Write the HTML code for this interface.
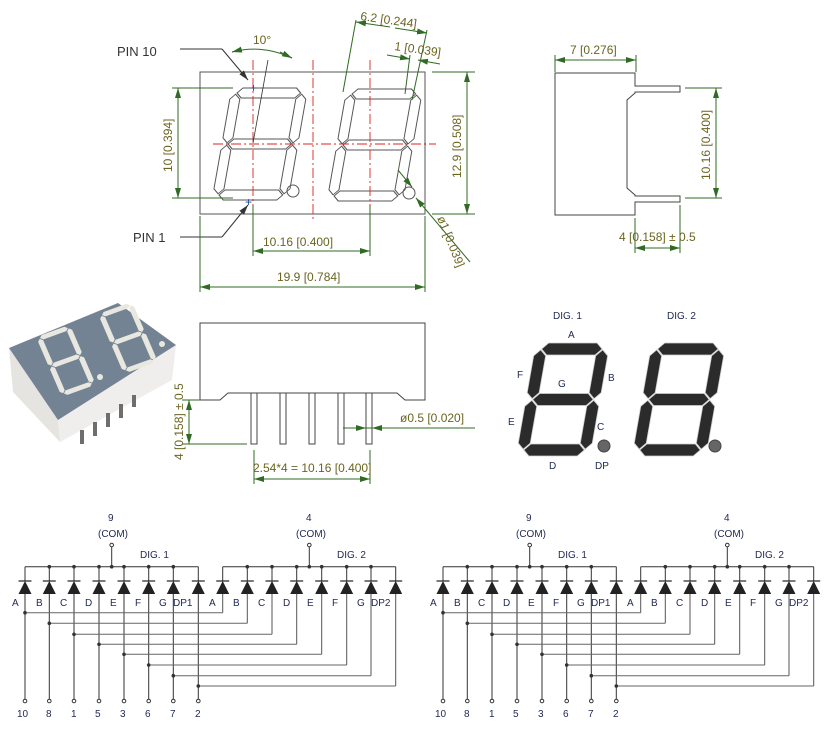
<!DOCTYPE html>
<html><head><meta charset="utf-8"><style>
html,body{margin:0;padding:0;background:#fff;width:834px;height:730px;overflow:hidden}
svg{display:block}
text{font-family:"Liberation Sans Narrow","Liberation Sans",sans-serif}
.d{fill:#6a6420;font-size:12px}
.g{stroke:#2f6b22;stroke-width:1;fill:none}
.s{font-size:10px;fill:#222a55}
.k{fill:#333;font-size:13px}
.r{stroke:#e02020;stroke-width:0.9;stroke-dasharray:10 3 2 3;fill:none}
</style></head><body>
<svg id="sv" width="834" height="730" viewBox="0 0 834 730" xmlns="http://www.w3.org/2000/svg">
<defs>
<marker id="ar" markerWidth="10" markerHeight="6" refX="10" refY="3" orient="auto" markerUnits="userSpaceOnUse"><path d="M0,0 L10,3 L0,6z" fill="#2f6b22"/></marker>
<marker id="ak" markerWidth="10" markerHeight="6" refX="10" refY="3" orient="auto" markerUnits="userSpaceOnUse"><path d="M0,0 L10,3 L0,6z" fill="#333"/></marker>
</defs>

<!-- top front view -->
<rect x="200" y="72" width="225" height="142" fill="none" stroke="#555" stroke-width="1"/>
<g id="outl"></g>
<circle cx="293" cy="191" r="6" fill="none" stroke="#555"/>
<circle cx="409" cy="193" r="6" fill="none" stroke="#555"/>
<line class="r" x1="253" y1="60" x2="253" y2="220"/>
<line class="r" x1="313" y1="60" x2="313" y2="220"/>
<line class="r" x1="370" y1="60" x2="370" y2="220"/>
<line class="r" x1="213" y1="144" x2="436" y2="144"/>
<line x1="253" y1="143" x2="268" y2="60" stroke="#333" stroke-width="0.8"/>
<text x="250" y="92" fill="#1a4a9a" font-size="12">+</text>
<text x="245" y="206" fill="#1a4a9a" font-size="12">+</text>

<!-- PIN labels -->
<text class="k" x="117" y="56">PIN 10</text>
<polyline points="180,49 222,49" stroke="#333" fill="none"/>
<line x1="222" y1="49" x2="248" y2="80" stroke="#333" marker-end="url(#ak)"/>
<text class="k" x="133" y="242">PIN 1</text>
<polyline points="180,237 222,237" stroke="#333" fill="none"/>
<line x1="222" y1="237" x2="248" y2="205" stroke="#333" marker-end="url(#ak)"/>

<!-- 10 deg -->
<path d="M232,52 Q262,44 292,58" class="g"/>
<line x1="240" y1="50" x2="232" y2="52" class="g" marker-end="url(#ar)"/>
<line x1="280" y1="52" x2="292" y2="58" class="g" marker-end="url(#ar)"/>
<text class="d" x="253" y="44">10°</text>

<!-- 6.2 -->
<line class="g" x1="343" y1="92" x2="356" y2="20"/>
<line class="g" x1="412" y1="100" x2="427" y2="30"/>
<line class="g" x1="390" y1="27" x2="356" y2="22" marker-end="url(#ar)"/>
<line class="g" x1="395" y1="28" x2="427" y2="33" marker-end="url(#ar)"/>
<text class="d" x="360" y="20" transform="rotate(8 360 20)">6.2 [0.244]</text>
<!-- 1 -->
<line class="g" x1="405" y1="94" x2="410" y2="55"/>
<line class="g" x1="387" y1="55" x2="410" y2="59" marker-end="url(#ar)"/>
<line class="g" x1="440" y1="64" x2="418" y2="60" marker-end="url(#ar)"/>
<text class="d" x="394" y="50" transform="rotate(8 394 50)">1 [0.039]</text>

<!-- 12.9 -->
<line class="g" x1="432" y1="72" x2="475" y2="72"/>
<line class="g" x1="432" y1="214" x2="475" y2="214"/>
<line class="g" x1="467" y1="140" x2="467" y2="72" marker-end="url(#ar)"/>
<line class="g" x1="467" y1="140" x2="467" y2="214" marker-end="url(#ar)"/>
<text class="d" x="0" y="0" transform="translate(461,178) rotate(-90)">12.9 [0.508]</text>
<!-- 10 -->
<line class="g" x1="172" y1="88" x2="233" y2="88"/>
<line class="g" x1="172" y1="198" x2="233" y2="198"/>
<line class="g" x1="178" y1="140" x2="178" y2="88" marker-end="url(#ar)"/>
<line class="g" x1="178" y1="140" x2="178" y2="198" marker-end="url(#ar)"/>
<text class="d" x="0" y="0" transform="translate(172,172) rotate(-90)">10 [0.394]</text>
<!-- 10.16 -->
<line class="g" x1="253" y1="205" x2="253" y2="256"/>
<line class="g" x1="370" y1="205" x2="370" y2="256"/>
<line class="g" x1="310" y1="251" x2="253" y2="251" marker-end="url(#ar)"/>
<line class="g" x1="310" y1="251" x2="370" y2="251" marker-end="url(#ar)"/>
<text class="d" x="263" y="246">10.16 [0.400]</text>
<!-- 19.9 -->
<line class="g" x1="200" y1="216" x2="200" y2="292"/>
<line class="g" x1="425" y1="216" x2="425" y2="292"/>
<line class="g" x1="310" y1="287" x2="200" y2="287" marker-end="url(#ar)"/>
<line class="g" x1="310" y1="287" x2="425" y2="287" marker-end="url(#ar)"/>
<text class="d" x="277" y="281">19.9 [0.784]</text>
<!-- phi 1 -->
<line class="g" x1="398" y1="170" x2="412" y2="187" marker-end="url(#ar)"/>
<line class="g" x1="470" y1="262" x2="416" y2="198" marker-end="url(#ar)"/>
<text class="d" x="0" y="0" transform="translate(437,218) rotate(68)">ø1 [0.039]</text>

<!-- right side view -->
<path d="M555,73 L635,73 L635,86 L680,86 L680,92 L635,92 L635,93 L627,100 L627,188 L635,195 L635,196 L680,196 L680,202 L635,202 L635,215 L555,215 Z" fill="none" stroke="#444"/>
<line class="g" x1="555" y1="55" x2="555" y2="72"/>
<line class="g" x1="636" y1="55" x2="636" y2="72"/>
<line class="g" x1="595" y1="60" x2="555" y2="60" marker-end="url(#ar)"/>
<line class="g" x1="595" y1="60" x2="636" y2="60" marker-end="url(#ar)"/>
<text class="d" x="570" y="54">7 [0.276]</text>
<line class="g" x1="685" y1="88" x2="722" y2="88"/>
<line class="g" x1="685" y1="198" x2="722" y2="198"/>
<line class="g" x1="716" y1="143" x2="716" y2="88" marker-end="url(#ar)"/>
<line class="g" x1="716" y1="143" x2="716" y2="198" marker-end="url(#ar)"/>
<text class="d" x="0" y="0" transform="translate(710,180) rotate(-90)">10.16 [0.400]</text>
<line class="g" x1="635" y1="218" x2="635" y2="253"/>
<line class="g" x1="680" y1="205" x2="680" y2="253"/>
<line class="g" x1="657" y1="248" x2="635" y2="248" marker-end="url(#ar)"/>
<line class="g" x1="657" y1="248" x2="680" y2="248" marker-end="url(#ar)"/>
<text class="d" x="619" y="241">4 [0.158] ± 0.5</text>

<!-- photo -->
<polygon points="9,348 58,420 60,442 13,392" fill="#e6e4e0"/>
<polygon points="58,420 176,345 172,380 60,442" fill="#efeeec"/>
<polygon points="9,348 118,303 176,345 58,420" fill="#748393"/>
<g fill="#6e6e6e">
<rect x="80" y="430" width="4" height="14"/><rect x="93" y="422" width="4" height="14"/><rect x="106" y="413" width="4" height="14"/><rect x="119" y="404" width="4" height="14"/><rect x="132" y="395" width="4" height="12"/>
</g>
<g id="photo"></g>
<circle cx="100" cy="377" r="3" fill="#e8e8e0"/>
<circle cx="162" cy="344" r="3" fill="#e8e8e0"/>

<!-- side view bottom -->
<path d="M200,323 L425,323 L425,400 L405,400 L397,393 L228,393 L220,400 L200,400 Z" fill="none" stroke="#444"/>
<g fill="#fff" stroke="#444">
<rect x="251" y="393" width="6" height="51"/><rect x="280" y="393" width="6" height="51"/><rect x="309" y="393" width="6" height="51"/><rect x="338" y="393" width="6" height="51"/><rect x="366" y="393" width="6" height="51"/>
</g>
<line class="g" x1="182" y1="400" x2="200" y2="400"/>
<line class="g" x1="182" y1="444" x2="247" y2="444"/>
<line class="g" x1="189" y1="422" x2="189" y2="400" marker-end="url(#ar)"/>
<line class="g" x1="189" y1="422" x2="189" y2="444" marker-end="url(#ar)"/>
<text class="d" x="0" y="0" transform="translate(183,460) rotate(-90)">4 [0.158] ± 0.5</text>
<line class="g" x1="343" y1="428" x2="475" y2="428"/>
<line class="g" x1="355" y1="428" x2="366" y2="428" marker-end="url(#ar)"/>
<line class="g" x1="385" y1="428" x2="372" y2="428" marker-end="url(#ar)"/>
<text class="d" x="400" y="422" font-size="13">ø0.5 [0.020]</text>
<line class="g" x1="254" y1="450" x2="254" y2="484"/>
<line class="g" x1="370" y1="450" x2="370" y2="484"/>
<line class="g" x1="312" y1="479" x2="254" y2="479" marker-end="url(#ar)"/>
<line class="g" x1="312" y1="479" x2="370" y2="479" marker-end="url(#ar)"/>
<text class="d" x="253" y="472" font-size="13">2.54*4 = 10.16 [0.400]</text>

<!-- segment display -->
<g id="disp"></g>
<circle cx="604" cy="446" r="6" fill="#666" stroke="#444"/>
<circle cx="715" cy="446" r="6" fill="#666" stroke="#444"/>
<g class="s">
<text x="553" y="319">DIG. 1</text><text x="667" y="319">DIG. 2</text>
<text x="568" y="338">A</text><text x="517" y="378">F</text><text x="558" y="387">G</text><text x="608" y="381">B</text>
<text x="508" y="425">E</text><text x="597" y="430">C</text><text x="549" y="469">D</text><text x="595" y="469">DP</text>
</g>

<!-- schematics -->
<g id="sch1"></g>
<g id="sch2" transform="translate(418,0)"></g>
<g class="s">
<text x="108" y="521">9</text><text x="98" y="537">(COM)</text><text x="140" y="558">DIG. 1</text>
<text x="306" y="521">4</text><text x="296" y="537">(COM)</text><text x="337" y="558">DIG. 2</text>
<text x="12" y="606">A</text><text x="36" y="606">B</text><text x="60" y="606">C</text><text x="85" y="606">D</text><text x="110" y="606">E</text><text x="135" y="606">F</text><text x="159" y="606">G</text><text x="173" y="606">DP1</text>
<text x="209" y="606">A</text><text x="233" y="606">B</text><text x="258" y="606">C</text><text x="283" y="606">D</text><text x="307" y="606">E</text><text x="332" y="606">F</text><text x="357" y="606">G</text><text x="371" y="606">DP2</text>
<text x="17" y="717">10</text><text x="46" y="717">8</text><text x="71" y="717">1</text><text x="95" y="717">5</text><text x="120" y="717">3</text><text x="145" y="717">6</text><text x="170" y="717">7</text><text x="195" y="717">2</text>
</g>
<g class="s" transform="translate(418,0)">
<text x="108" y="521">9</text><text x="98" y="537">(COM)</text><text x="140" y="558">DIG. 1</text>
<text x="306" y="521">4</text><text x="296" y="537">(COM)</text><text x="337" y="558">DIG. 2</text>
<text x="12" y="606">A</text><text x="36" y="606">B</text><text x="60" y="606">C</text><text x="85" y="606">D</text><text x="110" y="606">E</text><text x="135" y="606">F</text><text x="159" y="606">G</text><text x="173" y="606">DP1</text>
<text x="209" y="606">A</text><text x="233" y="606">B</text><text x="258" y="606">C</text><text x="283" y="606">D</text><text x="307" y="606">E</text><text x="332" y="606">F</text><text x="357" y="606">G</text><text x="371" y="606">DP2</text>
<text x="17" y="717">10</text><text x="46" y="717">8</text><text x="71" y="717">1</text><text x="95" y="717">5</text><text x="120" y="717">3</text><text x="145" y="717">6</text><text x="170" y="717">7</text><text x="195" y="717">2</text>
</g>
</svg>
<script>
var NS="http://www.w3.org/2000/svg";
function el(p,t,a){var e=document.createElementNS(NS,t);for(var k in a)e.setAttribute(k,a[k]);p.appendChild(e);return e;}
function segs(W,H,T,g){
 var L=T/2,R=W-T/2,top=T/2,mid=H/2,bot=H-T/2,h=T/2,o=[];
 function hz(y,x0,x1){return [x0,y,x0+h,y-h,x1-h,y-h,x1,y,x1-h,y+h,x0+h,y+h].join(" ");}
 function vt(x,y0,y1){return [x,y0,x+h,y0+h,x+h,y1-h,x,y1,x-h,y1-h,x-h,y0+h].join(" ");}
 o.push(hz(top,L+g,R-g),hz(mid,L+g,R-g),hz(bot,L+g,R-g),vt(L,top+g,mid-g),vt(R,top+g,mid-g),vt(L,mid+g,bot-g),vt(R,mid+g,bot-g));
 return o;}
function digit(p,bx,by,W,H,T,g,sk,attr,tf){
 var gr=el(p,"g",{transform:tf||("translate("+bx+","+by+") skewX("+(-sk)+") translate(0,"+(-H)+")")});
 segs(W,H,T,g).forEach(function(s){var a={points:s};for(var k in attr)a[k]=attr[k];el(gr,"polygon",a);});
}
var outl=document.getElementById("outl");
digit(outl,212,200,76,112,10,1.2,10,{fill:"#fff",stroke:"#555","stroke-width":"1"});
digit(outl,327,201,76,112,10,1.2,10,{fill:"#fff",stroke:"#555","stroke-width":"1"});
var disp=document.getElementById("disp");
digit(disp,516,456,74,113,12,0.8,10,{fill:"#2b2b2b",stroke:"#cfcfcf","stroke-width":"0.8"});
digit(disp,632,456,74,113,12,0.8,10,{fill:"#2b2b2b",stroke:"#cfcfcf","stroke-width":"0.8"});
var ph=document.getElementById("photo");
digit(ph,0,0,34,68,5,0.6,0,{fill:"#e8e8e0"},"matrix(1,-0.36,0.38,0.88,36,337)");
digit(ph,0,0,34,68,5,0.6,0,{fill:"#e8e8e0"},"matrix(1,-0.36,0.38,0.88,98,314)");
var d=[25,49.3,74,99,124,148.7,173.3,198.3,222.7,247.3,272,296.7,321.7,346.7,371,395.7];
var yk=[612.7,623.3,634.3,644.3,654.3,665,675.7,686];
function sch(p){
 var L={stroke:"#333","stroke-width":"1",fill:"none"};
 function ln(x1,y1,x2,y2,c){var a={x1:x1,y1:y1,x2:x2,y2:y2};for(var k in L)a[k]=L[k];if(c)a.stroke=c;el(p,"line",a);}
 ln(d[0],566.7,d[7],566.7);ln(d[8],566.7,d[15],566.7);
 [[111.7,0],[309.3,8]].forEach(function(c){ln(c[0],547,c[0],566.7);el(p,"circle",{cx:c[0],cy:545,r:1.8,fill:"#fff",stroke:"#333"});el(p,"circle",{cx:c[0],cy:566.7,r:1.8,fill:"#333"});});
 for(var i=0;i<16;i++){var x=d[i];
  ln(x,566.7,x,581);
  if(i%8>0&&i%8<7)el(p,"circle",{cx:x,cy:566.7,r:1.8,fill:"#333"});
  el(p,"line",{x1:x-6.5,y1:581,x2:x+6.5,y2:581,stroke:"#222","stroke-width":"1.2"});
  el(p,"polygon",{points:x+",581 "+(x-6.5)+",594 "+(x+6.5)+",594",fill:"#222"});
  if(i<8){ln(x,594,x,699);el(p,"circle",{cx:x,cy:701,r:1.8,fill:"#fff",stroke:"#333"});}
  else{var y=yk[i-8];ln(x,594,x,y,"#555");ln(x,y,d[i-8],y,"#666");el(p,"circle",{cx:d[i-8],cy:y,r:1.8,fill:"#333"});}
 }
}
sch(document.getElementById("sch1"));sch(document.getElementById("sch2"));
</script>
</body></html>
